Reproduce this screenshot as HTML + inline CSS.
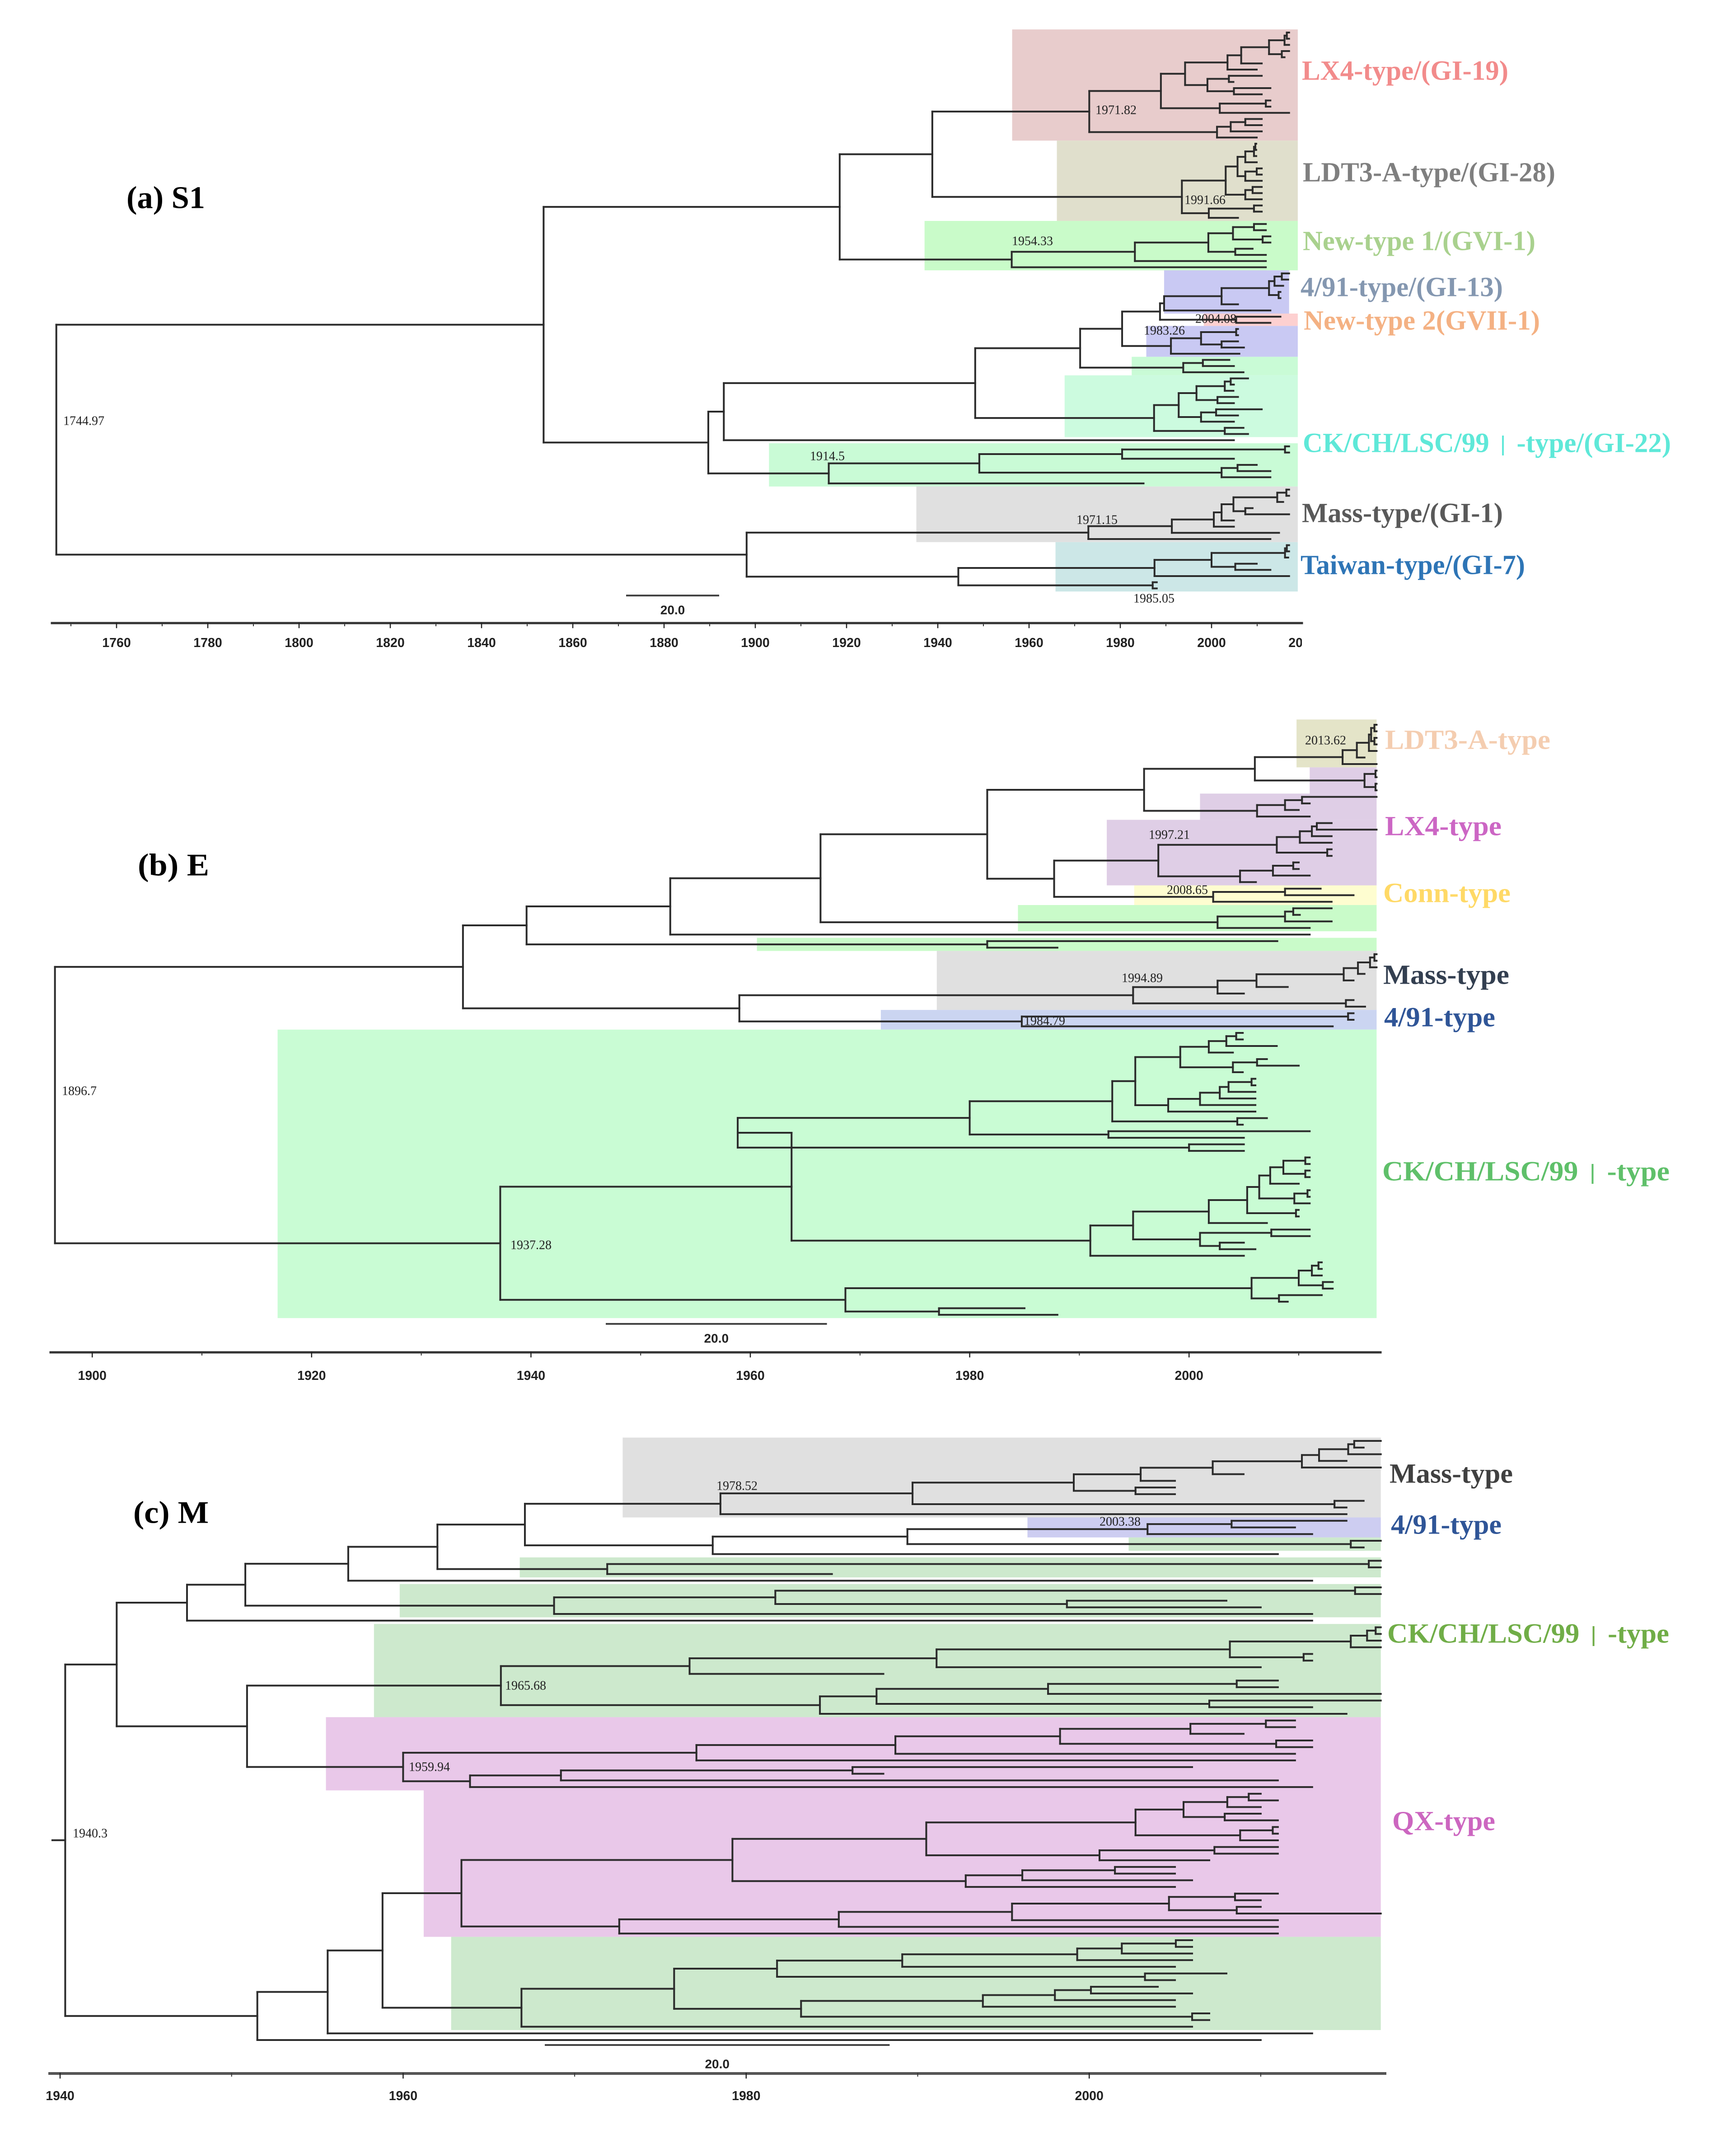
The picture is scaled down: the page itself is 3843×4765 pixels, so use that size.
<!DOCTYPE html>
<html lang="en">
<head>
<meta charset="utf-8">
<title>Phylogenetic time trees: S1, E and M</title>
<style>
html,body{margin:0;padding:0;background:#fff}
svg{display:block}
.clade{font-family:"Liberation Serif","Noto Serif CJK SC",serif;font-weight:700;dominant-baseline:central}
.bar{font-family:"Noto Sans CJK SC",sans-serif;font-weight:300}
.node{font-family:"Liberation Serif",serif;font-size:28px;fill:#222;dominant-baseline:central}
.title{font-family:"Liberation Serif",serif;font-weight:700;font-size:70px;fill:#000;dominant-baseline:central}
.tick{font-family:"Liberation Sans",sans-serif;font-weight:700;font-size:28.5px;fill:#222;text-anchor:middle;dominant-baseline:central}
.scale{font-family:"Liberation Sans",sans-serif;font-weight:700;font-size:28px;fill:#222;text-anchor:middle;dominant-baseline:central}
</style>
</head>
<body>
<svg id="figure" xmlns="http://www.w3.org/2000/svg" width="3843" height="4765" viewBox="0 0 3843 4765">
<defs><clipPath id="clip-a"><rect x="0" y="1395" width="2882" height="60"/></clipPath></defs>
<rect x="0" y="0" width="3843" height="4765" fill="#fff"/>
<g id="panel-a"></g>
<g id="panel-b"></g>
<g id="panel-c"></g>

<text class="title" x="280" y="438" textLength="174" lengthAdjust="spacingAndGlyphs">(a) S1</text>
<text class="title" x="305" y="1915" textLength="158" lengthAdjust="spacingAndGlyphs">(b) E</text>
<text class="title" x="295" y="3348" textLength="167" lengthAdjust="spacingAndGlyphs">(c) M</text>

<g font-size="61">
<text class="clade" x="2882" y="157" fill="#f28b8b" textLength="457" lengthAdjust="spacingAndGlyphs">LX4-type/(GI-19)</text>
<text class="clade" x="2884" y="382" fill="#7f7f7f" textLength="559" lengthAdjust="spacingAndGlyphs">LDT3-A-type/(GI-28)</text>
<text class="clade" x="2884" y="534" fill="#a9d18e" textLength="515" lengthAdjust="spacingAndGlyphs">New-type 1/(GVI-1)</text>
<text class="clade" x="2879" y="636" fill="#8497b0" textLength="448" lengthAdjust="spacingAndGlyphs">4/91-type/(GI-13)</text>
<text class="clade" x="2886" y="710" fill="#f4b183" textLength="523" lengthAdjust="spacingAndGlyphs">New-type 2(GVII-1)</text>
<text class="clade" x="2884" y="981" fill="#5ee8d8" textLength="815" lengthAdjust="spacingAndGlyphs">CK/CH/LSC/99<tspan class="bar">Ⅰ</tspan>-type/(GI-22)</text>
<text class="clade" x="2882" y="1136" fill="#595959" textLength="445" lengthAdjust="spacingAndGlyphs">Mass-type/(GI-1)</text>
<text class="clade" x="2879" y="1251" fill="#2e75b6" textLength="497" lengthAdjust="spacingAndGlyphs">Taiwan-type/(GI-7)</text>
</g>
<g font-size="61">
<text class="clade" x="3066" y="1638" fill="#f4cdb0" textLength="366" lengthAdjust="spacingAndGlyphs">LDT3-A-type</text>
<text class="clade" x="3066" y="1829" fill="#cc66c4" textLength="258" lengthAdjust="spacingAndGlyphs">LX4-type</text>
<text class="clade" x="3062" y="1977" fill="#ffd966" textLength="282" lengthAdjust="spacingAndGlyphs">Conn-type</text>
<text class="clade" x="3062" y="2158" fill="#333f50" textLength="279" lengthAdjust="spacingAndGlyphs">Mass-type</text>
<text class="clade" x="3064" y="2252" fill="#2f5597" textLength="246" lengthAdjust="spacingAndGlyphs">4/91-type</text>
<text class="clade" x="3060" y="2593" fill="#5fc06a" textLength="636" lengthAdjust="spacingAndGlyphs">CK/CH/LSC/99<tspan class="bar">Ⅰ</tspan>-type</text>
</g>
<g font-size="61">
<text class="clade" x="3076" y="3262" fill="#404040" textLength="273" lengthAdjust="spacingAndGlyphs">Mass-type</text>
<text class="clade" x="3079" y="3375" fill="#2f5597" textLength="245" lengthAdjust="spacingAndGlyphs">4/91-type</text>
<text class="clade" x="3071" y="3616" fill="#70ad47" textLength="624" lengthAdjust="spacingAndGlyphs">CK/CH/LSC/99<tspan class="bar">Ⅰ</tspan>-type</text>
<text class="clade" x="3082" y="4031" fill="#cc66c0" textLength="228" lengthAdjust="spacingAndGlyphs">QX-type</text>
</g>
<g id="node-labels">
<text class="node" x="2425" y="244">1971.82</text>
<text class="node" x="2622" y="443">1991.66</text>
<text class="node" x="2240" y="534">1954.33</text>
<text class="node" x="2646" y="706">2004.08</text>
<text class="node" x="2532" y="732">1983.26</text>
<text class="node" x="1793" y="1010">1914.5</text>
<text class="node" x="2383" y="1151">1971.15</text>
<text class="node" x="2509" y="1325">1985.05</text>
<text class="node" x="140" y="932">1744.97</text>
<text class="node" x="2889" y="1639">2013.62</text>
<text class="node" x="2543" y="1848">1997.21</text>
<text class="node" x="2583" y="1970">2008.65</text>
<text class="node" x="2483" y="2165">1994.89</text>
<text class="node" x="2267" y="2260">1984.79</text>
<text class="node" x="137" y="2415">1896.7</text>
<text class="node" x="1130" y="2756">1937.28</text>
<text class="node" x="1586" y="3289">1978.52</text>
<text class="node" x="2434" y="3368">2003.38</text>
<text class="node" x="1118" y="3731">1965.68</text>
<text class="node" x="905" y="3911">1959.94</text>
<text class="node" x="161" y="4058">1940.3</text>
</g>
</svg>
<script>
/* ---------- Data: node = [age, child, child...], leaf = tip age (decimal years) ---------- */
/* Panel (a) S1 */
const s1Lx4=[1973.2,[1988.9,[1994.2,[2003.5,[2006.5,[2012.6,[2016,[2016.5,2017,2017],2017],[2015.4,2017,2016]],2011],2009.9],[1999.1,[2003.8,2011,2004.8],[2004.9,2012.9,2011]]],[2001.8,[2011.9,2012.9,2012.9],2017]],[2001.2,[2004.2,[2007.4,2011,2011],2011],2009.9]];
const s1Ldt3=[1993.5,[2003.1,[2005.7,[2007.4,[2009.3,[2009.6,2009.8,2009.8],2009.8],2009.9],[2007.4,[2009.9,2011,2011],2011]],[2007.4,[2009,2011,2011],2011]],[1999.4,[2009.3,2011,2011],2005.8]];
const s1New1=[1956.2,[1983.2,[1999.3,[2004.7,[2009.3,2011.9,2011.9],[2011.2,2012.9,2012.9]],[2005.2,2009,2011.9]],2011.9],2011.9];
const s1Gi13=[1988.7,[1989.6,[2002.2,[2012.6,[2013.8,[2015.4,2017,2016.8],2015.7],[2014.7,2015.1,2015.1]],2005.8],2012.9],[2005.4,2015.1,2012.9]];
const s1Low491=[1991.1,[1997.7,[2005.4,2005.8,2005.8],[2002.2,2005.8,2007.1]],2006.1];
const s1Green1=[1993.8,[1998.1,2003.9,2004.9],2007];
const s1Green2=[1987.4,[1992.8,[1996.7,[2002.9,[2004.2,2008,2004.9],2004.8],[2001.3,2005.8,2004.9]],[1997.7,[2001,2011,2005.8],2004.9]],[2002.9,2007,2008]];
const s1Green3=[1916.1,[1949.1,[1980.4,[2016.1,2017,2017],2004.9],[2002.2,[2005.7,2009.9,2012.9],2012.9]],1985.1];
const s1Mass=[1973,[1991.3,[2000.5,[2002.2,[2004.8,[2014.4,[2016.4,2017,2017],2015.7],[2007.4,2009,2017]],2004.9],2004.9],2014.8],2012.9];
const s1Taiwan=[1944.5,[1987.5,[2000,[2016.1,[2016.5,2017,2017],2016.8],[2005.2,2009.9,2012.9]],2017],[1987.1,1988,1988]];
const s1Mid=[1948.2,[1971.2,[1980.4,s1Gi13,s1Low491],s1Green1],s1Green2];
const s1Tree=[1746.8,[1853.6,[1918.5,[1938.8,s1Lx4,s1Ldt3],s1New1],[1889.7,[1893.1,s1Mid,2004.9],s1Green3]],[1898.1,s1Mass,s1Taiwan]];
const s1TickLabels=['1760','1780','1800','1820','1840','1860','1880','1900','1920','1940','1960','1980','2000','2020'];
const s1MajorTicks=[1760,1780,1800,1820,1840,1860,1880,1900,1920,1940,1960,1980,2000,2020];
const s1MinorTicks=[1750,1770,1790,1810,1830,1850,1870,1890,1910,1930,1950,1970,1990,2010];
const s1BandStarts=[1956.3,1966.1,1937.1,1989.6,1998.3,1985.7,1982.5,1967.8,1903,1935.3,1965.8];
const s1BandEnds=[2018.9,2018.9,2018.9,2017,2018.9,2018.9,2018.9,2018.9,2018.9,2018.9,2018.9];
const s1BandFirstLeaf=[0,18,31,39,46,48,53,56,67,74,83];
const s1BandLastLeaf=[17,30,38,45,47,52,55,65,73,82,90];

/* Panel (b) E */
const eLdt3=[2014,[2015.3,[2016.4,[2016.6,[2016.9,2017.1,2017.1],[2016.9,2017.1,2017.1]],2017.1],2016],2017.1];
const eLx4Top=[2016,[2017,2017.1,2017.1],[2017,2017.1,2017.1]];
const eLx4Mid=[2006.2,[2008.75,[2010.3,2017.1,2011],2010],2011];
const eLx4Main=[1997.2,[2008,[2010.1,[2011.2,[2011.65,2013,2017.1],2013],2013],[2012.6,2013,2013]],[2004.65,[2007.65,[2009.5,2010,2010],2011],2006.1]];
const eConn=[2002.2,[2008.75,2012,2015],2013];
const eGreen=[2002.6,[2008.75,[2009.5,2013,2010.1],2013],2011];
const eGreen2=[1981.6,2008.05,1988];
const eMass=[1994.9,[2002.6,[2006.15,[2014.1,[2015.4,[2016.5,[2016.9,2017.1,2017.1],2017.1],2016],2015],2009],2005],[2014.3,2015,2016.05]];
const e491=[1984.75,[2014.5,2015,2015],2013.1];
const eCkA1=[1999.2,[2001.8,[2003.4,[2004.3,2004.9,2004.9],2008],2004],[2004,[2006.2,2007.1,2010],2004.9]];
const eCkA2=[1998.1,[2001,[2002.8,[2003.6,[2005.7,2006.05,2006.05],2006.05],2006.05],2006.05],2006.05];
const eCkA=[1958.85,[1980,[1993,[1995.1,eCkA1,eCkA2],[2004.4,2007.1,2004.9]],[1992.65,2011,2005]],[2000,2005,2005]];
const eCkB=[1991,[1994.9,[2001.8,[2005.3,[2006.4,[2007.4,[2008.6,[2010.6,2011,2011],[2010.6,2011,2011]],2010],[2009.6,[2010.8,2011,2011],2011]],[2009.75,2010,2010]],2007.1],[2001,[2007.5,2011,2011],[2002.8,2005,2006.05]]],2005];
const eCkC=[1968.67,[2005.7,[2010,[2011.2,[2011.8,2012.1,2012.1],2012.1],[2012.2,2013.1,2013.1]],[2008.2,2012.1,2009]],[1977.2,1985,1988]];
const eCk=[1937.2,[1963.76,eCkA,eCkB],eCkC];
const eUpper=[1966.4,[1981.6,[1995.9,[2006,eLdt3,eLx4Top],eLx4Mid],[1987.7,eLx4Main,eConn]],eGreen];
const eTree=[1896.6,[1933.8,[1939.6,[1952.7,eUpper,2011],eGreen2],[1959,eMass,e491]],eCk];
const eTickLabels=['1900','1920','1940','1960','1980','2000'];
const eMajorTicks=[1900,1920,1940,1960,1980,2000];
const eMinorTicks=[1910,1930,1950,1970,1990,2010];
const eBandStarts=[2009.8,2011,2001,1992.5,1995,1984.4,1960.6,1977,1971.9,1916.9];
const eBandEnds=[2017.1,2017.1,2017.1,2017.1,2017.1,2017.1,2017.1,2017.1,2017.1,2017.1];
const eBandFirstLeaf=[-0.3,7,11,15,25,28,33,35,44,47];
const eBandLastLeaf=[6,10,14,24,27,31,34,43,46,90];

/* Panel (c) M */
const mMass=[1989.7,[1999.1,[2003,[2007.2,[2012.4,[2013.4,[2015.1,[2015.45,2017,2016],2017],2015],2017],2009],2005],[2002.7,2005,2005]],[2014.3,2016,2015]];
const m491=[2003.4,[2008.3,2015,2012],2013];
const mGreenA=[2015.25,2017,2016];
const mGreenB=[1971.9,[2016.3,2017,2017],1985];
const mGreenC=[1968.8,[1981.7,[2015.5,2017,2017],[1998.7,2008,2010]],2013];
const mCk1=[1991.1,[2008.2,[2015.25,[2016.2,[2016.7,2017,2017],2017],2017],[2012.5,2013,2013]],2010];
const mCk2=[1984.3,[1987.6,[1997.6,[2008.6,2011,2011],2017],[2007,2017,2013]],2015];
const mQx1=[1977.1,[1988.7,[1998.3,[2005.9,[2010.3,2012,2012],2009],[2010.9,2013,2013]],2012],2012];
const mQx2=[1963.9,[1969.2,[1986.2,2006,1988],2011],2013];
const mQxA=[1990.5,[2002.7,[2005.5,[2008.05,[2009.3,2010,2011],2010],[2007.9,2010,2011]],[2008.8,[2010.7,2011,2011],2011]],[2000.6,[2007.3,2011,2011],2007]];
const mQxB=[1992.8,[1996.1,[2001.5,2005,2005],2006],2005];
const mQxC=[1985.4,[1995.5,[2004.65,[2008.5,2011,2010],[2008.6,2010,2017]],2011],2011];
const mG1=[1981.8,[1989.1,[1999.3,[2001.9,[2005.05,2006,2006],2006],2006],2005],[2003.25,2008,2005]];
const mG2=[1983.2,[1993.8,[1998,[2000.1,2004,2006],2005],2005],[2006,2007,2007]];
const m319=[1962,[1967.1,[1978.5,mMass,2015],[1978.05,[1989.4,m491,mGreenA],2011]],mGreenB];
const mTop=[1943.3,[1947.4,[1950.8,[1956.8,m319,2013],mGreenC],2013],[1950.9,[1965.7,[1976.7,mCk1,1988],mCk2],[1960,mQx1,mQx2]]];
const mLow=[1951.5,[1955.6,[1958.8,[1963.4,[1979.2,mQxA,mQxB],[1972.6,mQxC,2011]],[1966.9,[1975.8,mG1,mG2],2006]],2013],2010];
const mTree=[1940.3,mTop,mLow];
const mTickLabels=['1940','1960','1980','2000'];
const mMajorTicks=[1940,1960,1980,2000];
const mMinorTicks=[1950,1970,1990,2010];
const mBandStarts=[1972.8,1996.4,2002.3,1966.8,1959.8,1958.3,1955.5,1961.2,1962.8];
const mBandEnds=[2017,2017,2017,2017,2017,2017,2017,2017,2017];
const mBandFirstLeaf=[0,12,15,18,22,28,42,53,75];
const mBandLastLeaf=[11,14,16,20,26,41,52,74,88];

/* ---------- Drawing ---------- */
const NS='http://www.w3.org/2000/svg';
function mk(tag,parent){const el=document.createElementNS(NS,tag);parent.appendChild(el);return el;}
function line(parent,x1,y1,x2,y2,color,w){
  const el=mk('line',parent);
  el.setAttribute('x1',x1);el.setAttribute('y1',y1);el.setAttribute('x2',x2);el.setAttribute('y2',y2);
  el.setAttribute('stroke',color);el.setAttribute('stroke-width',w);el.setAttribute('stroke-linecap','square');
  return el;
}
function drawPanel(cfg){
  const root=document.getElementById(cfg.id);
  const xOf=function(year){return cfg.xBase+(year-cfg.yearBase)*cfg.pxPerYear;};
  const yOf=function(i){return cfg.leafTop+i*cfg.leafStep;};
  /* highlight bands */
  const bands=mk('g',root);
  
  
  cfg.bandStarts.forEach(function(start,k){
    const r=mk('rect',bands);
    
    
    const top=yOf(cfg.bandFirst[k]-0.5),bottom=yOf(cfg.bandLast[k]+0.5);
    r.setAttribute('x',xOf(start));
    r.setAttribute('y',top);
    r.setAttribute('width',xOf(cfg.bandEnds[k])-xOf(start));
    r.setAttribute('height',bottom-top);
    r.setAttribute('fill',cfg.bandColors[k]);
  });
  /* tree */
  const g=mk('g',root);
  
  
  let leafIndex=0;
  function place(node){
    if(typeof node==='number'){return {year:node,y:yOf(leafIndex++)};}
    const kids=node.slice(1).map(place);
    const y=(kids[0].y+kids[kids.length-1].y)/2;
    const x=xOf(node[0]);
    const v=line(g,x,kids[0].y,x,kids[kids.length-1].y,cfg.branchColor,cfg.branchWidth);
    
    
    kids.forEach(function(c){
      const h=line(g,x,c.y,xOf(c.year),c.y,cfg.branchColor,cfg.branchWidth);
      
      
    });
    return {year:node[0],y:y};
  }
  const top=place(cfg.tree);
  if(cfg.stubYear){
    const st=line(g,xOf(cfg.stubYear),top.y,xOf(top.year),top.y,cfg.branchColor,cfg.branchWidth);
    
    
  }
  /* axis */
  const ax=mk('g',root);
  
  
  const axisLine=line(ax,cfg.axisLeft,cfg.axisY,cfg.axisRight,cfg.axisY,cfg.axisColor,cfg.axisWidth);
  
  
  cfg.minor.forEach(function(t){
    if(xOf(t)>cfg.axisRight)return;
    const m=line(ax,xOf(t),cfg.axisY,xOf(t),cfg.axisY+6,'#333',2);
    
    
  });
  cfg.major.forEach(function(t,k){
    if(xOf(t)<=cfg.axisRight){
      const m=line(ax,xOf(t),cfg.axisY,xOf(t),cfg.axisY+10,'#222',2.5);
      
      
    }
    const lab=mk('text',ax);
    
    
    lab.setAttribute('class','tick');
    lab.setAttribute('x',xOf(t));
    lab.setAttribute('y',cfg.labelY);
    if(cfg.clip)lab.setAttribute('clip-path',cfg.clip);
    lab.textContent=cfg.labels[k];
  });
  /* scale bar */
  const sb=mk('g',root);
  
  
  const bar=line(sb,cfg.scaleLeft,cfg.scaleY,cfg.scaleLeft+cfg.scaleYears*cfg.pxPerYear,cfg.scaleY,'#444',4);
  
  
  const st=mk('text',sb);
  
  
  st.setAttribute('class','scale');
  st.setAttribute('x',cfg.scaleLeft+cfg.scaleYears*cfg.pxPerYear/2);
  st.setAttribute('y',cfg.scaleLabelY);
  st.textContent=cfg.scaleYears.toFixed(1);
}
const cPink='#e9c8e9',cGreenM='#cde9cd',cGray='#e0e0e0';
drawPanel({id:'panel-a',tree:s1Tree,xBase:258,yearBase:1760,pxPerYear:10.1,leafTop:72,leafStep:13.67,
  bandStarts:s1BandStarts,bandEnds:s1BandEnds,bandFirst:s1BandFirstLeaf,bandLast:s1BandLastLeaf,
  bandColors:['#e8cccc','#e0dfcc','#c9fbc9','#c9c9f3','#fdd0d0','#c9c9f3','#c9fbd6','#ccfbdf','#c9fbd6',cGray,'#cce7e7'],
  branchColor:'#2b2b2b',branchWidth:4,
  axisLeft:115,axisRight:2882,axisY:1379,axisColor:'#333',axisWidth:5,
  major:s1MajorTicks,minor:s1MinorTicks,labels:s1TickLabels,labelY:1423,clip:'url(#clip-a)',
  scaleLeft:1388,scaleY:1318,scaleYears:20,scaleLabelY:1350});
drawPanel({id:'panel-b',tree:eTree,xBase:1661,yearBase:1960,pxPerYear:24.28,leafTop:1604,leafStep:14.51,
  bandStarts:eBandStarts,bandEnds:eBandEnds,bandFirst:eBandFirstLeaf,bandLast:eBandLastLeaf,
  bandColors:['#e4e4c8','#dfcee6','#dfcee6','#dfcee6','#fefdd0','#c9fbc9','#c9fbc9',cGray,'#cbd5f1','#c9fcd4'],
  branchColor:'#2b2b2b',branchWidth:4,
  axisLeft:112,axisRight:3056,axisY:2993,axisColor:'#333',axisWidth:5,
  major:eMajorTicks,minor:eMinorTicks,labels:eTickLabels,labelY:3045,
  scaleLeft:1343,scaleY:2930,scaleYears:20,scaleLabelY:2962});
drawPanel({id:'panel-c',tree:mTree,xBase:133,yearBase:1940,pxPerYear:37.97,leafTop:3189,leafStep:14.733,
  bandStarts:mBandStarts,bandEnds:mBandEnds,bandFirst:mBandFirstLeaf,bandLast:mBandLastLeaf,
  bandColors:[cGray,'#cdcdf1',cGreenM,cGreenM,cGreenM,cGreenM,cPink,cPink,cGreenM],
  branchColor:'#2b2b2b',branchWidth:4,stubYear:1939.55,
  axisLeft:110,axisRight:3066,axisY:4589,axisColor:'#555',axisWidth:6,
  major:mMajorTicks,minor:mMinorTicks,labels:mTickLabels,labelY:4639,
  scaleLeft:1208,scaleY:4526,scaleYears:20,scaleLabelY:4568});
</script>
</body>
</html>
